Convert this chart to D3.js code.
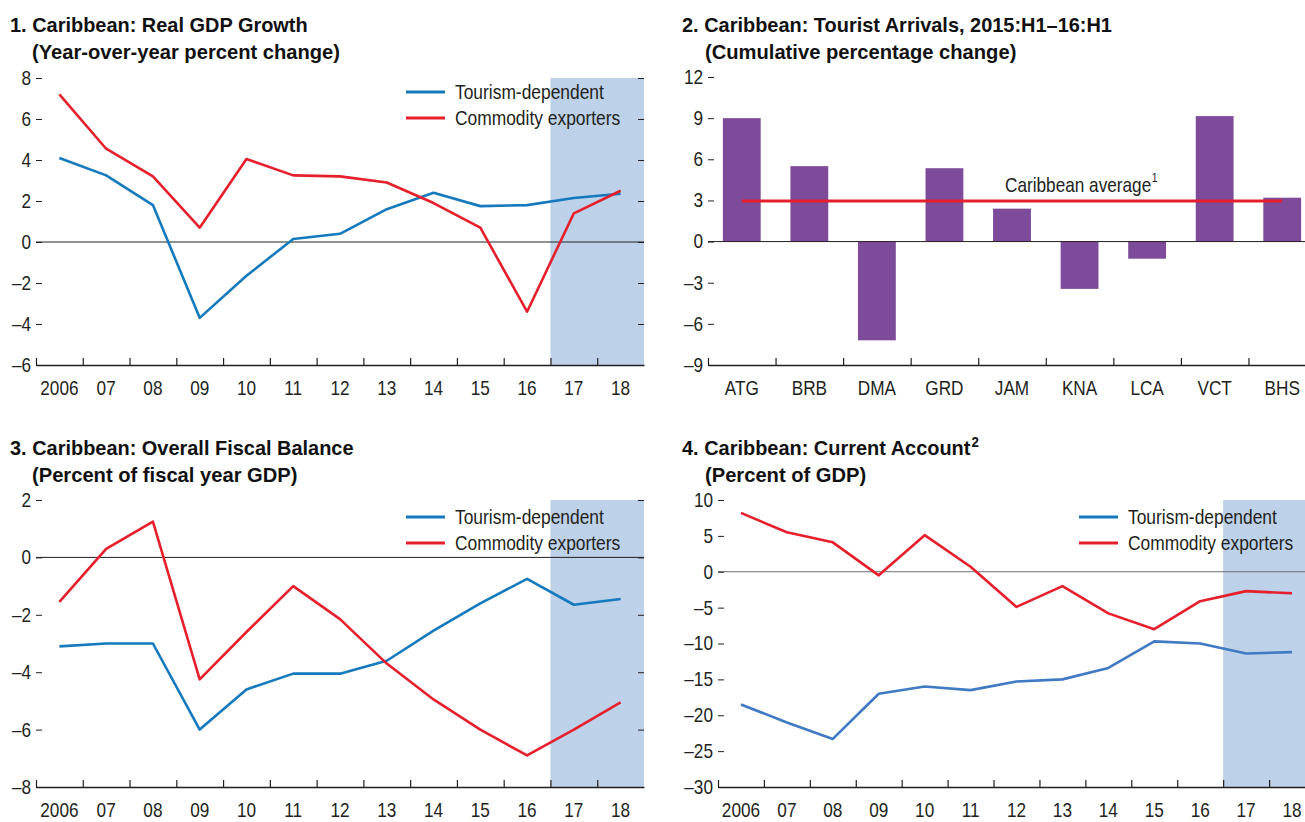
<!DOCTYPE html>
<html>
<head>
<meta charset="utf-8">
<script src="https://cdn.jsdelivr.net/npm/d3@7"></script>
<style>
body { margin: 0; background: #fff; }
text { font-family: "Liberation Sans", Arial, sans-serif; fill: #231f20; }
.title { font-weight: bold; fill: #111; }
</style>
</head>
<body>
<svg id="chart" width="1305" height="822"></svg>
<script>
// data
var years = ['2006', '07', '08', '09', '10', '11', '12', '13', '14', '15', '16', '17', '18'];
var projFrom = '17';

var gdpTourism = [4.1, 3.25, 1.8, -3.7, -1.65, 0.15, 0.4, 1.6, 2.4, 1.75, 1.8, 2.15, 2.35];
var gdpCommodity = [7.2, 4.55, 3.2, 0.7, 4.05, 3.25, 3.2, 2.9, 1.9, 0.7, -3.4, 1.4, 2.5];

var countries = ['ATG', 'BRB', 'DMA', 'GRD', 'JAM', 'KNA', 'LCA', 'VCT', 'BHS'];
var arrivals = [9.0, 5.5, -7.2, 5.35, 2.4, -3.45, -1.25, 9.15, 3.2];
var caribbeanAvg = 2.95;

var fiscalTourism = [-3.1, -3.0, -3.0, -6.0, -4.6, -4.05, -4.05, -3.6, -2.55, -1.6, -0.75, -1.65, -1.45];
var fiscalCommodity = [-1.55, 0.3, 1.25, -4.25, -2.6, -1.0, -2.15, -3.7, -4.95, -6.0, -6.9, -6.0, -5.05];

var caTourism = [-18.5, -21.0, -23.3, -17.0, -16.0, -16.5, -15.3, -15.0, -13.4, -9.7, -10.0, -11.4, -11.2];
var caCommodity = [8.2, 5.5, 4.1, -0.5, 5.1, 0.7, -4.9, -2.0, -5.8, -8.0, -4.1, -2.7, -3.0];

var seriesNames = ['Tourism-dependent', 'Commodity exporters'];

var BLUE = '#1479bd', RED = '#e51f2c', PURPLE = '#7e4b9b', SHADE = '#bdd1e9';

var svg = d3.select('#chart');

function fmt(v) { return v < 0 ? '\u2013' + Math.abs(v) : String(v); }

// the reference uses a condensed face; squeeze Liberation Sans horizontally
function condense(sel, f) {
  var w = 0;
  sel.each(function () {
    var t = d3.select(this);
    var len = this.getComputedTextLength();
    var x0 = +t.attr('x') || 0;
    t.attr('x', 0).attr('transform', 'translate(' + x0 + ',0) scale(' + f + ',1)');
    w = len * f;
  });
  return w;
}

function titleBlock(x, y, line1, line2, x2, supText) {
  var t = svg.append('text').attr('class', 'title').attr('font-size', 21)
    .attr('x', x).attr('y', y).text(line1);
  var w = condense(t, 0.95);
  if (supText) {
    var s = svg.append('text').attr('class', 'title').attr('font-size', 14)
      .attr('x', x + w + 1).attr('y', y - 8).text(supText);
    condense(s, 0.95);
  }
  var t2 = svg.append('text').attr('class', 'title').attr('font-size', 21)
    .attr('x', x2).attr('y', y + 27).text(line2);
  condense(t2, 0.96);
}

function yAxes(g, y, left, right, ticks, rightTicks) {
  g.append('g')
    .attr('transform', 'translate(' + left + ',0)')
    .call(d3.axisLeft(y).tickValues(ticks).tickSize(-6).tickPadding(5).tickFormat(fmt))
    .call(function (a) {
      a.select('.domain').remove();
      a.selectAll('line').attr('stroke', '#231f20');
      a.selectAll('text').attr('font-size', 20).attr('font-family', null);
      condense(a.selectAll('text'), 0.86);
    });
  if (rightTicks) {
    g.append('g')
      .attr('transform', 'translate(' + right + ',0)')
      .call(d3.axisRight(y).tickValues(ticks).tickSize(-6).tickFormat(''))
      .call(function (a) {
        a.select('.domain').remove();
        a.selectAll('line').attr('stroke', '#231f20');
      });
  }
}

function xAxis(g, x, n, left, right, bottom) {
  var xb = d3.scaleLinear().domain([0, n]).range([left, right]);
  g.append('g')
    .attr('transform', 'translate(0,' + bottom + ')')
    .call(d3.axisBottom(xb).tickValues(d3.range(0, n)).tickSize(-7).tickSizeOuter(0).tickFormat(''))
    .call(function (a) {
      a.select('.domain').attr('stroke', '#231f20').attr('stroke-width', 1.5);
      a.selectAll('line').attr('stroke', '#231f20').attr('stroke-width', 1.2);
    });
  g.append('g')
    .attr('transform', 'translate(0,' + bottom + ')')
    .call(d3.axisBottom(x).tickSize(0).tickPadding(12))
    .call(function (a) {
      a.select('.domain').remove();
      a.selectAll('text').attr('font-size', 20).attr('font-family', null).attr('dy', '0.9em');
      condense(a.selectAll('text'), 0.86);
    });
}

function linePanel(cfg) {
  var g = svg.append('g');
  var x = d3.scaleBand().domain(years).range([cfg.left, cfg.right]);
  var y = d3.scaleLinear().domain(cfg.domain).range([cfg.bottom, cfg.top]);

  g.append('rect')
    .attr('x', x(projFrom))
    .attr('y', cfg.top)
    .attr('width', cfg.right - x(projFrom))
    .attr('height', cfg.bottom - cfg.top)
    .attr('fill', SHADE);

  g.append('line')
    .attr('x1', cfg.left).attr('x2', cfg.right)
    .attr('y1', y(0)).attr('y2', y(0))
    .attr('stroke', cfg.zeroColor || '#231f20').attr('stroke-width', 1);

  yAxes(g, y, cfg.left, cfg.right, d3.range(cfg.domain[0], cfg.domain[1] + 0.001, cfg.step), true);
  xAxis(g, x, years.length, cfg.left, cfg.right, cfg.bottom);

  var line = d3.line()
    .x(function (d, i) { return x(years[i]) + x.bandwidth() / 2; })
    .y(function (d) { return y(d); });

  cfg.series.forEach(function (s) {
    g.append('path')
      .datum(s.values)
      .attr('fill', 'none')
      .attr('stroke', s.color)
      .attr('stroke-width', 2.6)
      .attr('stroke-linejoin', 'round')
      .attr('d', line);
  });

  var lg = g.selectAll('g.legend')
    .data(cfg.series)
    .enter().append('g')
      .classed('legend', true)
      .attr('transform', function (s, i) { return 'translate(' + cfg.legendX + ',' + (cfg.legendY + i * 26) + ')'; });
  lg.append('line')
    .attr('x1', 0).attr('x2', 39)
    .attr('stroke', function (s) { return s.legendColor || s.color; })
    .attr('stroke-width', 3);
  var lt = lg.append('text')
    .attr('x', 49).attr('y', 7)
    .attr('font-size', 20)
    .text(function (s, i) { return seriesNames[i]; });
  condense(lt, 0.87);
}

// 1. GDP growth
titleBlock(10, 32, '1. Caribbean: Real GDP Growth', '(Year-over-year percent change)', 32);
linePanel({
  left: 36, right: 644, top: 78, bottom: 365,
  domain: [-6, 8], step: 2,
  legendX: 406, legendY: 92,
  series: [{ values: gdpTourism, color: BLUE }, { values: gdpCommodity, color: RED }]
});

// 3. fiscal balance
titleBlock(10, 455, '3. Caribbean: Overall Fiscal Balance', '(Percent of fiscal year GDP)', 32);
linePanel({
  left: 36, right: 644, top: 500, bottom: 787,
  domain: [-8, 2], step: 2,
  legendX: 406, legendY: 517,
  series: [{ values: fiscalTourism, color: BLUE }, { values: fiscalCommodity, color: RED }]
});

// 4. current account
titleBlock(682, 455, '4. Caribbean: Current Account', '(Percent of GDP)', 705, '2');
linePanel({
  left: 718, right: 1315, top: 500, bottom: 787,
  domain: [-30, 10], step: 5,
  legendX: 1079, legendY: 517,
  zeroColor: '#6d6e71',
  series: [{ values: caTourism, color: '#3f7ac3', legendColor: BLUE }, { values: caCommodity, color: RED }]
});

// 2. tourist arrivals
titleBlock(682, 32, '2. Caribbean: Tourist Arrivals, 2015:H1\u201316:H1', '(Cumulative percentage change)', 705);
(function () {
  var left = 708, right = 1316, top = 77, bottom = 365;
  var g = svg.append('g');
  var x = d3.scaleBand().domain(countries).range([left, right]).paddingInner(0.44).paddingOuter(0.22);
  var xl = d3.scaleBand().domain(countries).range([left, right]);
  var y = d3.scaleLinear().domain([-9, 12]).range([bottom, top]);

  g.selectAll('rect.bar')
    .data(arrivals)
    .enter().append('rect')
      .classed('bar', true)
      .attr('x', function (d, i) { return x(countries[i]); })
      .attr('width', x.bandwidth())
      .attr('y', function (d) { return y(Math.max(0, d)); })
      .attr('height', function (d) { return Math.abs(y(d) - y(0)); })
      .attr('fill', PURPLE);

  g.append('line')
    .attr('x1', left).attr('x2', right)
    .attr('y1', y(0)).attr('y2', y(0))
    .attr('stroke', '#231f20').attr('stroke-width', 1);

  yAxes(g, y, left, right, d3.range(-9, 13, 3), false);
  xAxis(g, xl, countries.length, left, right, bottom);

  g.append('line')
    .attr('x1', xl(countries[0]) + xl.bandwidth() / 2)
    .attr('x2', xl(countries[countries.length - 1]) + xl.bandwidth() / 2)
    .attr('y1', y(caribbeanAvg)).attr('y2', y(caribbeanAvg))
    .attr('stroke', RED).attr('stroke-width', 3);

  var lab = g.append('text')
    .attr('x', 1005).attr('y', y(caribbeanAvg) - 9)
    .attr('font-size', 20)
    .text('Caribbean average');
  var w = condense(lab, 0.86);
  var s = g.append('text')
    .attr('x', 1005 + w + 0.5).attr('y', y(caribbeanAvg) - 19)
    .attr('font-size', 12)
    .text('1');
  condense(s, 0.86);
})();
</script>
</body>
</html>
